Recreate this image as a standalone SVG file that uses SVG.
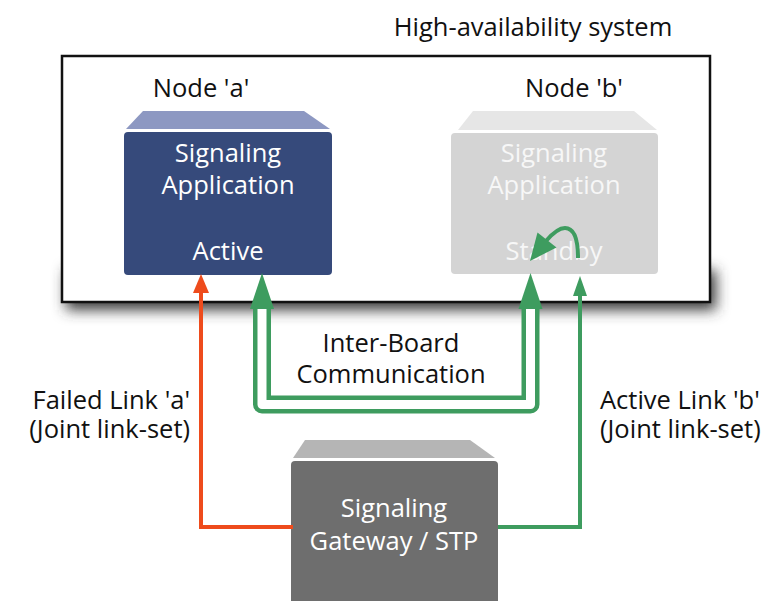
<svg xmlns="http://www.w3.org/2000/svg" width="778" height="601" viewBox="0 0 778 601">
  <defs>
    <style>
      text { font-family: "Open Sans", "Noto Sans", "Liberation Sans", sans-serif; font-size: 25.5px; font-weight: 500; }
      .lbl { fill: #111111; }
      .in-dark { fill: #ffffff; text-anchor: middle; }
      .in-light { fill: #f7f7f7; text-anchor: middle; }
      .mid { text-anchor: middle; }
      .red { stroke: #ee4b1c; stroke-width: 4; fill: none; }
      .grn { stroke: #3e9c5f; stroke-width: 4; fill: none; }
      .grn-fill { fill: #3e9c5f; }
      .red-fill { fill: #ee4b1c; }
    </style>
    <filter id="soft" x="-10%" y="-100%" width="120%" height="300%">
      <feGaussianBlur stdDeviation="7"/>
    </filter>
  </defs>

  <rect width="778" height="601" fill="#ffffff"/>

  <!-- system enclosure with drop shadow -->
  <g id="system">
    <rect x="66" y="270" width="650" height="40" fill="#3a3a3a" filter="url(#soft)"/>
    <rect x="62" y="56" width="648" height="246" fill="#ffffff" stroke="#111111" stroke-width="2.5"/>
    <text class="lbl mid" x="533" y="36">High-availability system</text>
  </g>

  <!-- node a -->
  <g id="node-a">
    <text class="lbl mid" x="201" y="97">Node 'a'</text>
    <polygon points="143,111 304,111 330,129 126,129" fill="#8d98c2"/>
    <rect x="124" y="132" width="208" height="143" rx="4" fill="#364a7b"/>
    <text class="in-dark" x="228" y="162">Signaling</text>
    <text class="in-dark" x="228" y="194">Application</text>
    <text class="in-dark" x="228" y="260">Active</text>
  </g>

  <!-- node b -->
  <g id="node-b">
    <text class="lbl mid" x="574" y="97">Node 'b'</text>
    <polygon points="473,111 634,111 657,130 458,130" fill="#e6e6e6"/>
    <rect x="451" y="133" width="207" height="141" rx="4" fill="#d4d4d4"/>
    <text class="in-light" x="554" y="162">Signaling</text>
    <text class="in-light" x="554" y="194">Application</text>
    <text class="in-light" x="554" y="260">Standby</text>
  </g>

  <!-- signaling gateway -->
  <g id="gateway">
    <polygon points="305,440 470,440 495,458 293,458" fill="#b5b5b5"/>
    <rect x="291" y="461" width="207" height="150" rx="4" fill="#6e6e6e"/>
    <text class="in-dark" x="394" y="517">Signaling</text>
    <text class="in-dark" x="394" y="550">Gateway / STP</text>
  </g>

  <!-- links and inter-board channel -->
  <g id="connectors">
    <!-- failed link a -->
    <path class="red" d="M293,527 H201 V290"/>
    <polygon class="red-fill" points="201,274 209,293 193,293"/>

    <!-- active link b -->
    <path class="grn" d="M498,527 H580 V294"/>
    <polygon class="grn-fill" points="580,276 587,296 573,296"/>

    <!-- inter-board pipe -->
    <path d="M262,306 V404.5 H530.5 V306" fill="none" stroke="#3e9c5f" stroke-width="18" stroke-linejoin="round"/>
    <path d="M262,305 V404.5 H530.5 V305" fill="none" stroke="#ffffff" stroke-width="9" stroke-linejoin="round"/>
    <polygon class="grn-fill" points="262,273 274,309 250,309"/>
    <polygon class="grn-fill" points="530.5,273 542.5,309 518.5,309"/>

    <!-- switchover inside node b -->
    <path class="grn" d="M578,258 C578,240 574,228 565,228 C558,228 552,234 546,241"/>
    <polygon class="grn-fill" points="530,261 537.5,232.5 556.5,247.5"/>
  </g>

  <!-- link labels -->
  <g id="labels">
    <text class="lbl mid" x="391" y="352">Inter-Board</text>
    <text class="lbl mid" x="391" y="383">Communication</text>
    <text class="lbl" x="190" y="409" text-anchor="end">Failed Link 'a'</text>
    <text class="lbl" x="190" y="438" text-anchor="end">(Joint link-set)</text>
    <text class="lbl" x="600" y="409">Active Link 'b'</text>
    <text class="lbl" x="600" y="438">(Joint link-set)</text>
  </g>
</svg>
